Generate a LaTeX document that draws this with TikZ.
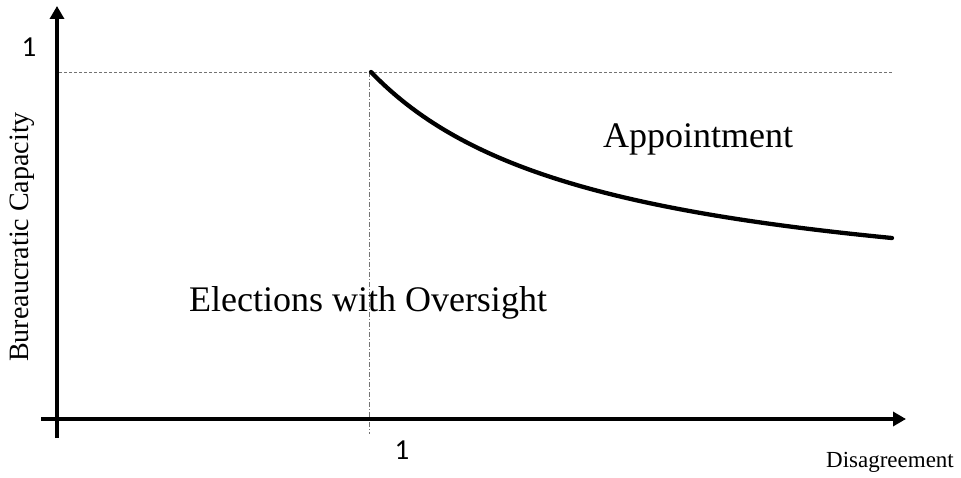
\documentclass[tikz,border=0pt]{standalone}
\usepackage{fontspec}
\setmainfont{Liberation Serif}
\newfontfamily\calfont{Carlito}
\usetikzlibrary{arrows.meta}
\begin{document}
\begin{tikzpicture}[x=1pt,y=-1pt,
  axis/.style={line width=4.5pt,-{Triangle[width=14pt,length=13pt]}},
  guide/.style={line width=0.8pt,draw=black!55,dash pattern=on 3pt off 2pt},
  guidedot/.style={line width=0.8pt,draw=black!55,dash pattern=on 5pt off 2pt on 1pt off 2pt},
  lbl/.style={inner sep=0pt,font=\fontsize{36}{40}\selectfont},
  tick/.style={inner sep=0pt,font=\calfont\fontsize{29}{32}\selectfont}]
\useasboundingbox (0,0) rectangle (961,478);
% guides
\coordinate (yl) at (59,72);
\coordinate (yr) at (893,72);
\coordinate (vt) at (369,72);
\coordinate (vb) at (369,434);
\draw[guide] (yl) -- (yr);
\draw[guidedot] (vt) -- (vb);
% axes
\coordinate (xs) at (41,419);
\coordinate (xe) at (906,419);
\coordinate (ys) at (57,438);
\coordinate (ye) at (57,6);
\draw[axis] (xs) -- (xe);
\draw[axis] (ys) -- (ye);
% curve
\draw[line width=4.3pt,line cap=round] plot[domain=3.71:8.92,samples=80,smooth]
  ({100*\x},{311.1-548.46/(\x-1.416)});
% labels
\node[lbl] (app) at (698,139) {Appointment};
\node[lbl] (ele) at (368,303) {Elections with Oversight};
\node[inner sep=0pt,font=\fontsize{28}{30}\selectfont,rotate=90] (yl1) at (22,237) {Bureaucratic Capacity};
\node[inner sep=0pt,font=\fontsize{23}{26}\selectfont] (xl1) at (890,462) {Disagreement};
\node[tick] (one1) at (29,47) {1};
\node[tick] (one2) at (402,450) {1};
\end{tikzpicture}
\end{document}
